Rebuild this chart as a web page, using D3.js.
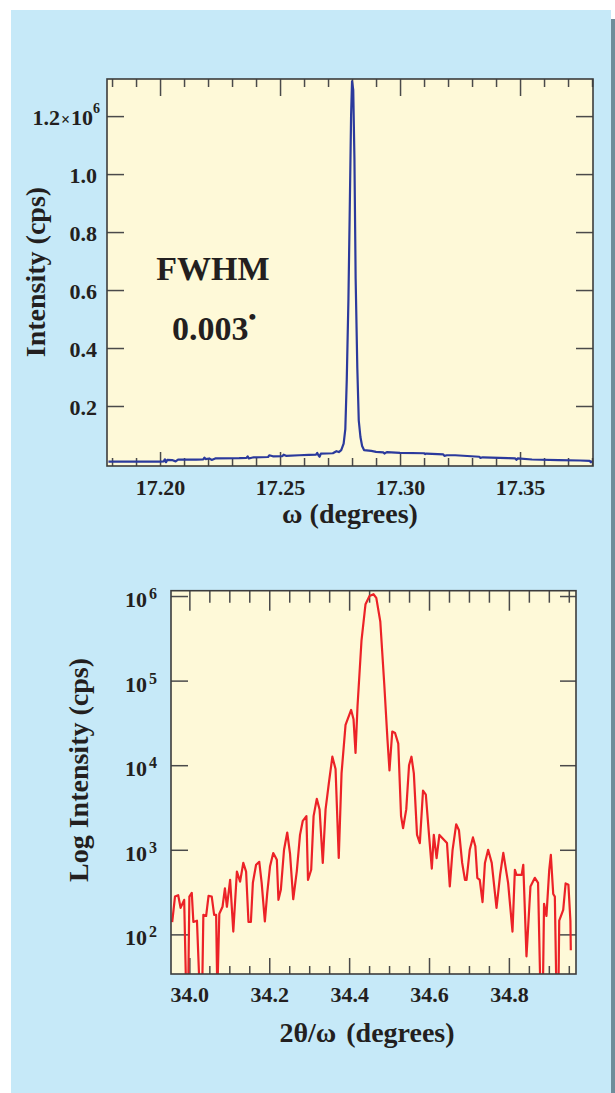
<!DOCTYPE html>
<html>
<head>
<meta charset="utf-8">
<script src="https://cdn.jsdelivr.net/npm/d3@7"></script>
<style>
  body { margin: 0; background: #ffffff; }
  svg { display: block; }
  text { font-family: "Liberation Serif", "Times New Roman", serif; font-weight: bold; fill: #231f20; }
</style>
</head>
<body>
<div id="wrapper"></div>
<script>
/* DATA */
// omega rocking curve (linear intensity)
const omegaDegrees = [17.1785, 17.19, 17.2, 17.2015, 17.202, 17.2025, 17.203, 17.205, 17.2065, 17.2075, 17.215, 17.218, 17.2185, 17.219, 17.2205, 17.2215, 17.223, 17.233, 17.236, 17.2365, 17.237, 17.239, 17.245, 17.2455, 17.247, 17.251, 17.2515, 17.2525, 17.258, 17.262, 17.265, 17.2655, 17.266, 17.2665, 17.267, 17.272, 17.2735, 17.2745, 17.2755, 17.2765, 17.2772, 17.2778, 17.2785, 17.279, 17.2796, 17.28, 17.2805, 17.281, 17.2815, 17.2822, 17.2828, 17.2835, 17.2842, 17.285, 17.288, 17.29, 17.293, 17.2935, 17.2945, 17.3, 17.31, 17.3105, 17.311, 17.318, 17.3185, 17.3195, 17.323, 17.333, 17.3335, 17.3345, 17.345, 17.348, 17.3485, 17.349, 17.355, 17.366, 17.375, 17.379, 17.3795, 17.38];
const omegaCps = [8000, 8000, 8200, 8500, 16000, 6000, 14000, 13500, 9000, 15000, 15000, 16000, 22000, 17000, 19000, 14000, 19000, 20000, 21000, 26000, 19000, 23000, 24000, 30000, 26500, 27000, 32000, 28000, 30000, 31500, 32000, 38000, 30000, 25000, 36000, 37000, 44000, 41000, 48000, 70000, 120000, 290000, 570000, 850000, 1200000, 1320000, 1290000, 1050000, 640000, 330000, 150000, 93000, 62000, 48000, 45000, 42000, 40000, 36000, 41000, 38000, 37000, 34000, 36000, 33000, 28000, 30000, 30000, 25000, 21000, 23000, 20000, 19000, 14000, 19000, 15500, 13000, 12000, 11000, 6000, 10000];
const omegaTicks = [17.20, 17.25, 17.30, 17.35];
const omegaMinorTicks = [17.18, 17.19, 17.21, 17.22, 17.23, 17.24, 17.26, 17.27, 17.28, 17.29, 17.31, 17.32, 17.33, 17.34, 17.36, 17.37, 17.38];
const intensityTicks = [200000, 400000, 600000, 800000, 1000000, 1200000];

// 2theta/omega scan (log intensity)
const twoThetaDegrees = [33.957, 33.964, 33.972, 33.978, 33.987, 33.992, 33.997, 34.000, 34.006, 34.010, 34.019, 34.026, 34.032, 34.035, 34.042, 34.048, 34.056, 34.062, 34.067, 34.070, 34.075, 34.083, 34.089, 34.094, 34.102, 34.110, 34.119, 34.127, 34.135, 34.142, 34.148, 34.154, 34.159, 34.167, 34.175, 34.181, 34.189, 34.195, 34.202, 34.210, 34.219, 34.223, 34.229, 34.237, 34.245, 34.252, 34.260, 34.269, 34.277, 34.284, 34.293, 34.297, 34.305, 34.311, 34.319, 34.326, 34.334, 34.341, 34.349, 34.358, 34.366, 34.374, 34.381, 34.391, 34.405, 34.411, 34.416, 34.421, 34.431, 34.441, 34.451, 34.461, 34.468, 34.478, 34.488, 34.496, 34.501, 34.508, 34.515, 34.523, 34.530, 34.535, 34.543, 34.550, 34.556, 34.562, 34.570, 34.577, 34.585, 34.592, 34.600, 34.607, 34.612, 34.619, 34.626, 34.645, 34.652, 34.659, 34.668, 34.675, 34.683, 34.690, 34.694, 34.702, 34.710, 34.716, 34.721, 34.727, 34.734, 34.740, 34.748, 34.757, 34.769, 34.778, 34.786, 34.798, 34.809, 34.815, 34.819, 34.832, 34.836, 34.844, 34.854, 34.865, 34.873, 34.879, 34.885, 34.888, 34.894, 34.901, 34.905, 34.911, 34.915, 34.919, 34.924, 34.926, 34.936, 34.942, 34.949, 34.954, 34.955];
const twoThetaCps = [140, 280, 290, 206, 256, 20, 20, 280, 310, 140, 145, 20, 20, 170, 165, 285, 280, 170, 170, 20, 175, 212, 350, 212, 441, 108, 553, 420, 700, 553, 140, 140, 407, 665, 720, 407, 142, 310, 640, 915, 762, 256, 336, 1000, 1600, 900, 260, 560, 1500, 2200, 2500, 440, 580, 2500, 4000, 3000, 700, 3000, 6000, 12600, 9000, 800, 8000, 30000, 45000, 35000, 14000, 50000, 300000, 800000, 1000000, 1050000, 950000, 500000, 90000, 20000, 8700, 25000, 24000, 18000, 2500, 1800, 3000, 10000, 12600, 8000, 1500, 1200, 5000, 4500, 1500, 600, 1500, 797, 1500, 1200, 368, 1000, 2000, 1700, 700, 441, 441, 1000, 1400, 1100, 466, 441, 241, 700, 1000, 700, 206, 505, 920, 407, 108, 580, 505, 505, 665, 55, 368, 466, 407, 20, 20, 230, 165, 580, 870, 300, 280, 20, 20, 145, 195, 400, 385, 145, 65];
const twoThetaTicks = [34.0, 34.2, 34.4, 34.6, 34.8];
const twoThetaMinorTicks = [34.05, 34.10, 34.15, 34.25, 34.30, 34.35, 34.45, 34.50, 34.55, 34.65, 34.70, 34.75, 34.85, 34.90, 34.95];
const logTicks = [1e2, 1e3, 1e4, 1e5, 1e6];

/* STYLE */
const textColor = '#231f20';
const tickColor = '#4a4a4a';
const frameColor = '#3c3c3c';
const plotFill = '#fef9d8';

/* CANVAS */
const svg = d3.select('#wrapper')
  .append('svg')
  .attr('width', 615)
  .attr('height', 1093);

// shadow + panel
svg.append('rect').attr('x', 611).attr('y', 19).attr('width', 4).attr('height', 1074).attr('fill', '#6e8d9a');
svg.append('rect').attr('x', 11).attr('y', 10).attr('width', 600).attr('height', 1083).attr('fill', '#c6e9f8');

function drawTicks(axis, values, size, tx, ty) {
  svg.append('g')
    .attr('transform', `translate(${tx},${ty})`)
    .call(axis.tickValues(values).tickSize(size).tickFormat(() => ''))
    .call(g => g.select('.domain').remove())
    .call(g => g.selectAll('text').remove())
    .call(g => g.selectAll('line').attr('stroke', tickColor).attr('stroke-width', 1.5));
}

function drawPlotBox(dims, id) {
  svg.append('rect')
    .attr('x', dims.left).attr('y', dims.top)
    .attr('width', dims.right - dims.left).attr('height', dims.bottom - dims.top)
    .attr('fill', plotFill);
  svg.append('clipPath').attr('id', id)
    .append('rect')
    .attr('x', dims.left).attr('y', dims.top)
    .attr('width', dims.right - dims.left).attr('height', dims.bottom - dims.top);
}

function drawFrame(dims) {
  svg.append('rect')
    .attr('x', dims.left).attr('y', dims.top)
    .attr('width', dims.right - dims.left).attr('height', dims.bottom - dims.top)
    .attr('fill', 'none')
    .attr('stroke', frameColor)
    .attr('stroke-width', 1.6);
}

/* ===== TOP CHART: omega scan ===== */
const topDims = { left: 107, right: 593, top: 79, bottom: 466 };

const xTop = d3.scaleLinear().domain([17.1779, 17.3804]).range([topDims.left, topDims.right]);
const yTop = d3.scaleLinear().domain([-7000, 1328000]).range([topDims.bottom, topDims.top]);

drawPlotBox(topDims, 'clip-top');

drawTicks(d3.axisBottom(xTop), omegaTicks, -14, 0, topDims.bottom);
drawTicks(d3.axisBottom(xTop), omegaMinorTicks, -8, 0, topDims.bottom);
drawTicks(d3.axisTop(xTop), omegaTicks, -17, 0, topDims.top);
drawTicks(d3.axisTop(xTop), omegaMinorTicks, -8, 0, topDims.top);
drawTicks(d3.axisLeft(yTop), intensityTicks, -17, topDims.left, 0);
drawTicks(d3.axisRight(yTop), intensityTicks, -17, topDims.right, 0);

const omegaLine = d3.line()
  .x(i => xTop(omegaDegrees[i]))
  .y(i => yTop(omegaCps[i]));

svg.append('path')
  .attr('clip-path', 'url(#clip-top)')
  .attr('d', omegaLine(d3.range(omegaDegrees.length)))
  .attr('fill', 'none')
  .attr('stroke', '#2b3a9c')
  .attr('stroke-width', 2.2)
  .attr('stroke-linejoin', 'round');

drawFrame(topDims);

// x labels
svg.append('g')
  .attr('transform', `translate(0,${topDims.bottom})`)
  .call(d3.axisBottom(xTop).tickValues(omegaTicks).tickSize(0).tickPadding(13).tickFormat(d3.format('.2f')))
  .call(g => g.select('.domain').remove())
  .call(g => g.selectAll('text').attr('font-size', 22).attr('fill', textColor));

// y labels
const topYLabels = svg.append('g').attr('text-anchor', 'end').attr('font-size', 22);
topYLabels.selectAll('text')
  .data(intensityTicks)
  .enter()
  .append('text')
  .attr('x', d => d === 1200000 ? 100 : 97)
  .attr('y', d => yTop(d))
  .attr('dy', '0.4em')
  .each(function (d) {
    const t = d3.select(this);
    t.append('tspan').text(d3.format('.1f')(d / 1e6));
    if (d === 1200000) {
      t.append('tspan').attr('font-size', 16).attr('dx', 1).text('×');
      t.append('tspan').attr('dx', 1).text('10');
      t.append('tspan').attr('font-size', 14).attr('dy', -12).text('6');
    }
  });

svg.append('text')
  .attr('x', 350).attr('y', 523)
  .attr('text-anchor', 'middle')
  .attr('font-size', 28)
  .text('ω (degrees)');

svg.append('text')
  .attr('transform', 'translate(45,272) rotate(-90)')
  .attr('text-anchor', 'middle')
  .attr('font-size', 28)
  .text('Intensity (cps)');

svg.append('text')
  .attr('x', 213).attr('y', 280)
  .attr('text-anchor', 'middle')
  .attr('font-size', 34)
  .text('FWHM');

const fwhmValue = svg.append('text')
  .attr('x', 172).attr('y', 340)
  .attr('font-size', 34);
fwhmValue.append('tspan').text('0.003');
fwhmValue.append('tspan').attr('font-size', 22).attr('dy', -16).text('•');

/* ===== BOTTOM CHART: 2theta/omega scan ===== */
const botDims = { left: 171, right: 576, top: 590.7, bottom: 974 };

const xBot = d3.scaleLinear().domain([33.954, 34.968]).range([botDims.left, botDims.right]);
const yBot = d3.scaleLog().domain([34, 1156000]).range([botDims.bottom, botDims.top]);

drawPlotBox(botDims, 'clip-bot');

drawTicks(d3.axisBottom(xBot), twoThetaTicks, -16, 0, botDims.bottom);
drawTicks(d3.axisBottom(xBot), twoThetaMinorTicks, -8, 0, botDims.bottom);
drawTicks(d3.axisTop(xBot), twoThetaTicks, -20, 0, botDims.top);
drawTicks(d3.axisTop(xBot), twoThetaMinorTicks, -12, 0, botDims.top);
drawTicks(d3.axisLeft(yBot), logTicks, -17, botDims.left, 0);
drawTicks(d3.axisRight(yBot), logTicks, -16, botDims.right, 0);

const twoThetaLine = d3.line()
  .x(i => xBot(twoThetaDegrees[i]))
  .y(i => yBot(twoThetaCps[i]));

svg.append('path')
  .attr('clip-path', 'url(#clip-bot)')
  .attr('d', twoThetaLine(d3.range(twoThetaDegrees.length)))
  .attr('fill', 'none')
  .attr('stroke', '#ec2227')
  .attr('stroke-width', 2.2)
  .attr('stroke-linejoin', 'round');

drawFrame(botDims);

svg.append('g')
  .attr('transform', `translate(0,${botDims.bottom})`)
  .call(d3.axisBottom(xBot).tickValues(twoThetaTicks).tickSize(0).tickPadding(12).tickFormat(d3.format('.1f')))
  .call(g => g.select('.domain').remove())
  .call(g => g.selectAll('text').attr('font-size', 22).attr('fill', textColor));

const botYLabels = svg.append('g').attr('text-anchor', 'end').attr('font-size', 22);
botYLabels.selectAll('text')
  .data(logTicks)
  .enter()
  .append('text')
  .attr('x', 157)
  .attr('y', d => yBot(d) + 11)
  .each(function (d) {
    const t = d3.select(this);
    t.append('tspan').text('10');
    t.append('tspan').attr('font-size', 16).attr('dx', 2).attr('dy', -8).text(Math.round(Math.log10(d)));
  });

const botXTitle = svg.append('text')
  .attr('x', 367).attr('y', 1042)
  .attr('text-anchor', 'middle')
  .attr('font-size', 28);
botXTitle.append('tspan').text('2θ/ω');
botXTitle.append('tspan').attr('dx', 10).text('(degrees)');

svg.append('text')
  .attr('transform', 'translate(88,770) rotate(-90)')
  .attr('text-anchor', 'middle')
  .attr('font-size', 28)
  .text('Log Intensity (cps)');
</script>
</body>
</html>
